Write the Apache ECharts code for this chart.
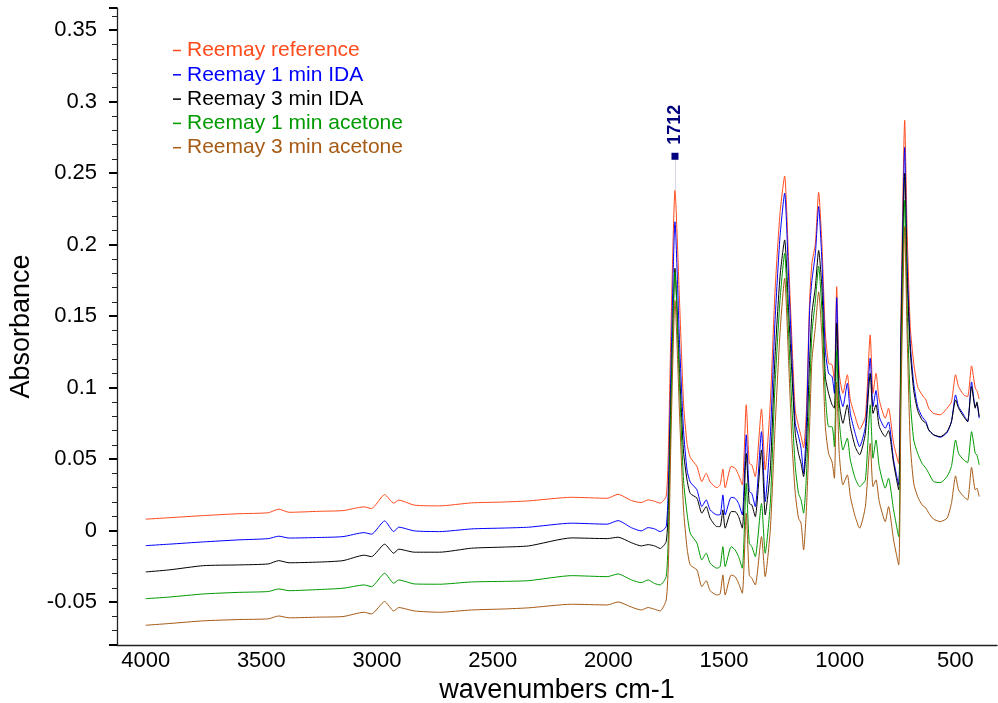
<!DOCTYPE html>
<html>
<head>
<meta charset="utf-8">
<script src="https://cdn.jsdelivr.net/npm/echarts@6/dist/echarts.min.js"></script>
<style>
  html, body { margin: 0; padding: 0; background: #fff; }
  #chart { width: 998px; height: 703px; }
</style>
</head>
<body>
<div id="chart"></div>
<script>
// wavenumbers (cm-1) shared by all spectra
var wavenumbers = [
	4000, 3900, 3750, 3600, 3470, 3425, 3380, 3250, 3147, 3056,
	3024, 2967, 2928, 2906, 2838, 2730, 2591, 2450, 2344, 2159,
	2005, 1958, 1900, 1858, 1828, 1800, 1776, 1750, 1740, 1730,
	1712, 1692, 1675, 1660, 1646, 1617, 1596, 1577, 1560, 1531,
	1517, 1505, 1495, 1469, 1452, 1437, 1421, 1404, 1391, 1380,
	1365, 1338, 1322, 1300, 1280, 1258, 1238, 1221, 1206, 1192,
	1178, 1167, 1156, 1144, 1130, 1120, 1105, 1091, 1077, 1062,
	1048, 1033, 1023, 1013, 1002, 986, 967, 954, 933, 914,
	889, 868, 856, 843, 829, 803, 789, 767, 745, 735,
	719, 709, 695, 680, 663, 644, 627, 615, 594, 565,
	536, 517, 499, 486, 464, 447, 430, 414, 407, 397
];

var reference = [
	0.0080, 0.0090, 0.0105, 0.0118, 0.0125, 0.0150, 0.0128, 0.0135, 0.0140, 0.0166,
	0.0154, 0.0252, 0.0192, 0.0213, 0.0178, 0.0173, 0.0194, 0.0200, 0.0208, 0.0233,
	0.0226, 0.0254, 0.0210, 0.0196, 0.0215, 0.0205, 0.0192, 0.0240, 0.0600, 0.1360,
	0.2380, 0.1590, 0.0890, 0.0610, 0.0513, 0.0448, 0.0343, 0.0401, 0.0340, 0.0300,
	0.0320, 0.0430, 0.0300, 0.0450, 0.0436, 0.0390, 0.0320, 0.0880, 0.0470, 0.0460,
	0.0378, 0.0850, 0.0424, 0.0890, 0.1660, 0.2220, 0.2480, 0.1890, 0.1310, 0.0840,
	0.0730, 0.0660, 0.0580, 0.0840, 0.1610, 0.1870, 0.2010, 0.2366, 0.2010, 0.1380,
	0.1170, 0.1160, 0.1050, 0.1706, 0.1100, 0.0960, 0.1090, 0.0914, 0.0797, 0.0709,
	0.0797, 0.1369, 0.0960, 0.1100, 0.0914, 0.0786, 0.0856, 0.0610, 0.0470, 0.1540,
	0.2870, 0.2126, 0.1427, 0.1170, 0.1007, 0.0949, 0.0914, 0.0856, 0.0820, 0.0810,
	0.0856, 0.0900, 0.1090, 0.1007, 0.0949, 0.0937, 0.1152, 0.0996, 0.0980, 0.0920
];

var ida1min = [
	-0.0105, -0.0095, -0.0079, -0.0065, -0.0056, -0.0039, -0.0052, -0.0048, -0.0042, -0.0014,
	-0.0025, 0.0068, -0.0007, 0.0024, -0.0002, -0.0007, 0.0012, 0.0018, 0.0024, 0.0052,
	0.0045, 0.0070, 0.0020, -0.0002, 0.0021, 0.0012, -0.0007, 0.0028, 0.0350, 0.1100,
	0.2160, 0.1300, 0.0700, 0.0424, 0.0340, 0.0285, 0.0168, 0.0215, 0.0145, 0.0110,
	0.0110, 0.0250, 0.0110, 0.0233, 0.0226, 0.0190, 0.0110, 0.0670, 0.0273, 0.0260,
	0.0168, 0.0692, 0.0203, 0.0660, 0.1450, 0.2056, 0.2360, 0.1776, 0.1190, 0.0750,
	0.0660, 0.0576, 0.0400, 0.0727, 0.1540, 0.1750, 0.1940, 0.2266, 0.1890, 0.1260,
	0.1100, 0.1077, 0.0960, 0.1630, 0.0980, 0.0867, 0.1030, 0.0820, 0.0680, 0.0587,
	0.0727, 0.1206, 0.0867, 0.0980, 0.0797, 0.0716, 0.0760, 0.0494, 0.0320, 0.1400,
	0.2680, 0.1900, 0.1310, 0.1030, 0.0867, 0.0797, 0.0762, 0.0704, 0.0670, 0.0653,
	0.0685, 0.0762, 0.0949, 0.0867, 0.0810, 0.0762, 0.1040, 0.0867, 0.0885, 0.0786
];

var ida3min = [
	-0.0289, -0.0275, -0.0245, -0.0240, -0.0233, -0.0210, -0.0225, -0.0220, -0.0210, -0.0172,
	-0.0182, -0.0095, -0.0158, -0.0130, -0.0151, -0.0151, -0.0123, -0.0115, -0.0107, -0.0051,
	-0.0056, -0.0046, -0.0085, -0.0107, -0.0098, -0.0107, -0.0125, -0.0077, 0.0200, 0.0900,
	0.1835, 0.1100, 0.0550, 0.0355, 0.0260, 0.0227, 0.0122, 0.0168, 0.0087, 0.0028,
	0.0028, 0.0145, 0.0017, 0.0133, 0.0133, 0.0098, 0.0017, 0.0540, 0.0190, 0.0180,
	0.0098, 0.0564, 0.0110, 0.0424, 0.1200, 0.1776, 0.2033, 0.1540, 0.1077, 0.0680,
	0.0540, 0.0470, 0.0378, 0.0587, 0.1190, 0.1520, 0.1706, 0.1960, 0.1700, 0.1077,
	0.0960, 0.0880, 0.0856, 0.1450, 0.0890, 0.0750, 0.0880, 0.0727, 0.0587, 0.0530,
	0.0680, 0.1100, 0.0820, 0.0880, 0.0727, 0.0657, 0.0700, 0.0470, 0.0285, 0.1300,
	0.2500, 0.1800, 0.1260, 0.0980, 0.0840, 0.0774, 0.0750, 0.0704, 0.0670, 0.0657,
	0.0692, 0.0762, 0.0914, 0.0856, 0.0797, 0.0762, 0.1007, 0.0856, 0.0900, 0.0797
];

var acetone1min = [
	-0.0476, -0.0465, -0.0443, -0.0432, -0.0426, -0.0408, -0.0420, -0.0412, -0.0403, -0.0380,
	-0.0392, -0.0298, -0.0368, -0.0345, -0.0373, -0.0375, -0.0359, -0.0355, -0.0350, -0.0315,
	-0.0322, -0.0303, -0.0345, -0.0364, -0.0345, -0.0370, -0.0380, -0.0322, 0.0000, 0.0800,
	0.1810, 0.1000, 0.0350, 0.0122, -0.0018, -0.0088, -0.0205, -0.0158, -0.0228, -0.0263,
	-0.0252, -0.0112, -0.0252, -0.0112, -0.0135, -0.0182, -0.0263, 0.0331, -0.0088, -0.0112,
	-0.0182, 0.0190, -0.0158, 0.0190, 0.1000, 0.1610, 0.1940, 0.1380, 0.0840, 0.0448,
	0.0260, 0.0215, 0.0122, 0.0378, 0.0960, 0.1380, 0.1610, 0.1850, 0.1540, 0.0960,
	0.0727, 0.0727, 0.0587, 0.1260, 0.0774, 0.0564, 0.0646, 0.0494, 0.0366, 0.0308,
	0.0355, 0.0880, 0.0506, 0.0634, 0.0448, 0.0297, 0.0366, 0.0145, -0.0042, 0.1100,
	0.2310, 0.1600, 0.0914, 0.0634, 0.0540, 0.0470, 0.0436, 0.0401, 0.0343, 0.0336,
	0.0378, 0.0448, 0.0634, 0.0540, 0.0494, 0.0476, 0.0692, 0.0540, 0.0530, 0.0460
];

var acetone3min = [
	-0.0662, -0.0650, -0.0631, -0.0622, -0.0617, -0.0597, -0.0610, -0.0605, -0.0601, -0.0571,
	-0.0583, -0.0496, -0.0562, -0.0538, -0.0562, -0.0571, -0.0555, -0.0548, -0.0540, -0.0515,
	-0.0520, -0.0499, -0.0535, -0.0555, -0.0538, -0.0550, -0.0562, -0.0485, -0.0200, 0.0600,
	0.1610, 0.0800, 0.0150, -0.0120, -0.0240, -0.0275, -0.0392, -0.0350, -0.0420, -0.0450,
	-0.0443, -0.0310, -0.0450, -0.0310, -0.0322, -0.0368, -0.0438, 0.0122, -0.0310, -0.0333,
	-0.0380, -0.0042, -0.0322, 0.0005, 0.0700, 0.1380, 0.1765, 0.1190, 0.0610, 0.0260,
	0.0087, 0.0052, -0.0135, 0.0145, 0.0727, 0.1190, 0.1427, 0.1670, 0.1357, 0.0727,
	0.0540, 0.0480, 0.0366, 0.1040, 0.0540, 0.0320, 0.0390, 0.0238, 0.0098, 0.0017,
	0.0168, 0.0610, 0.0308, 0.0355, 0.0203, 0.0063, 0.0168, -0.0065, -0.0240, 0.0900,
	0.2126, 0.1400, 0.0610, 0.0330, 0.0238, 0.0180, 0.0157, 0.0122, 0.0080, 0.0063,
	0.0087, 0.0190, 0.0383, 0.0285, 0.0238, 0.0215, 0.0443, 0.0285, 0.0297, 0.0238
];

var seriesNames = ['Reemay reference', 'Reemay 1 min IDA', 'Reemay 3 min IDA', 'Reemay 1 min acetone', 'Reemay 3 min acetone'];
var seriesColors = ['#FF4A1C', '#0000FF', '#000000', '#009A00', '#A65A14'];
var seriesValues = [reference, ida1min, ida3min, acetone1min, acetone3min];

// peak label 1712
var peakWave = 1712;
var peakTop = 0.238;
var peakMarkY = 0.2618;

var FONT = 'Liberation Sans, Arial, sans-serif';

var chart = echarts.init(document.getElementById('chart'), null, {renderer: 'canvas'});

var series = [];
for (var i = 0; i < seriesNames.length; i++) {
	var vals = seriesValues[i];
	var pts = [];
	for (var j = 0; j < wavenumbers.length; j++) {
		pts.push([wavenumbers[j], vals[j]]);
	}
	var s = {
		name: seriesNames[i],
		type: 'line',
		data: pts,
		showSymbol: false,
		smooth: 0.2,
		color: seriesColors[i],
		lineStyle: {width: 1, color: seriesColors[i]},
		z: 2
	};
	if (i == 0) {
		s.markLine = {
			silent: true,
			symbol: 'none',
			label: {show: false},
			lineStyle: {color: '#d4d4ea', width: 1, type: 'solid'},
			data: [[{coord: [peakWave, peakTop]}, {coord: [peakWave, peakMarkY]}]]
		};
		s.markPoint = {
			silent: true,
			symbol: 'rect',
			symbolSize: 7,
			itemStyle: {color: '#00007F'},
			label: {
				show: true,
				formatter: String(peakWave),
				position: 'top',
				rotate: 90,
				align: 'left',
				verticalAlign: 'middle',
				distance: 8,
				color: '#00007F',
				fontWeight: 'bold',
				fontSize: 18,
				fontFamily: FONT
			},
			data: [{coord: [peakWave, peakMarkY]}]
		};
	}
	series.push(s);
}

var legendData = [];
for (var k = 0; k < seriesNames.length; k++) {
	legendData.push({name: seriesNames[k], textStyle: {color: seriesColors[k]}});
}

var option = {
	animation: false,
	backgroundColor: '#ffffff',
	grid: {left: 117, right: 1, top: 8, bottom: 58, outerBoundsMode: 'none', containLabel: false},
	legend: {
		orient: 'vertical',
		left: 168,
		top: 35,
		icon: 'rect',
		itemWidth: 8,
		itemHeight: 1.5,
		itemGap: 3.3,
		data: legendData,
		textStyle: {fontSize: 21, fontFamily: FONT, lineHeight: 21, padding: [0, 0, 0, 1]}
	},
	xAxis: {
		type: 'value',
		inverse: true,
		min: 320,
		max: 4124,
		splitNumber: 8,
		name: 'wavenumbers cm-1',
		nameLocation: 'middle',
		nameGap: 30,
		nameTextStyle: {fontSize: 27, color: '#000', fontFamily: FONT},
		axisLine: {onZero: false, lineStyle: {color: '#222', width: 1.3}},
		axisTick: {show: false},
		splitLine: {show: false},
		axisLabel: {
			fontSize: 22,
			color: '#000',
			fontFamily: FONT,
			margin: 5,
			showMinLabel: false,
			showMaxLabel: false,
			formatter: function (v) {
				return Math.abs(v % 500) < 1e-6 ? String(v) : '';
			}
		}
	},
	yAxis: {
		type: 'value',
		min: -0.08,
		max: 0.3655,
		splitNumber: 9,
		name: 'Absorbance',
		nameLocation: 'middle',
		nameGap: 82,
		nameTextStyle: {fontSize: 27, color: '#000', fontFamily: FONT},
		axisLine: {show: true, onZero: false, lineStyle: {color: '#222', width: 1.3}},
		axisTick: {show: true, length: 8, lineStyle: {color: '#000', width: 2}},
		minorTick: {show: true, splitNumber: 5, length: 5, lineStyle: {color: '#222', width: 1}},
		splitLine: {show: false},
		axisLabel: {
			fontSize: 22,
			color: '#000',
			fontFamily: FONT,
			margin: 20,
			showMinLabel: false,
			showMaxLabel: false,
			formatter: function (v) {
				var r = Math.round(v * 100) / 100;
				if (Math.abs(v * 20 - Math.round(v * 20)) > 1e-6) return '';
				return String(r);
			}
		}
	},
	series: series
};

chart.setOption(option);
</script>
</body>
</html>
